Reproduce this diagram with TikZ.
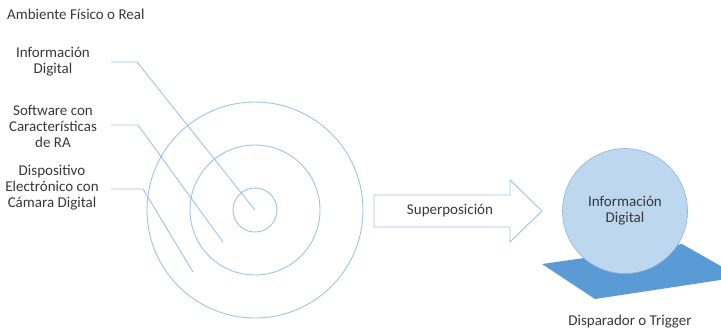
\documentclass[tikz,border=0pt]{standalone}
\usepackage{fontspec}
\setmainfont{Carlito}
\definecolor{linec}{HTML}{9DC3E6}
\definecolor{circfill}{HTML}{BDD7EE}
\definecolor{circdraw}{HTML}{8FB3DA}
\definecolor{trig}{HTML}{5B9BD5}
\definecolor{txt}{HTML}{383838}
\begin{document}
\begin{tikzpicture}[x=1pt,y=-1pt,
  lbl/.style={text=txt,font=\fontsize{15}{16}\selectfont,align=center,inner sep=0pt},
  leader/.style={draw=linec,line width=0.9pt},
  ring/.style={draw=linec,line width=0.9pt}]
\useasboundingbox (0,0) rectangle (721,333);
% title
\node[lbl,anchor=west] (amb) at (7,14) {Ambiente Físico o Real};
% rings
\coordinate (c) at (255,210);
\draw[ring] (c) circle[radius=108];
\draw[ring] (c) circle[radius=65];
\draw[ring] (c) circle[radius=22];
% labels
\node[lbl] (l1) at (53,62) {Información\\Digital};
\node[lbl] (l2) at (53,126) {Software con\\Características\\de RA};
\node[lbl] (l3) at (52,188) {Dispositivo\\Electrónico con\\Cámara Digital};
\coordinate (e1) at (255,210);
\coordinate (e2) at (223,242);
\coordinate (e3) at (193,272);
\coordinate (s1) at (111,62);
\coordinate (s2) at (111,125);
\coordinate (s3) at (111,189);
\draw[leader] (s1) -- (137,62) -- (e1);
\draw[leader] (s2) -- (138,125) -- (e2);
\draw[leader] (s3) -- (143,189) -- (e3);
% block arrow
\draw[draw=linec,fill=white,line width=0.9pt] (374,195) -- (510,195) -- (510,180) -- (542,211) -- (510,242) -- (510,227) -- (374,227) -- cycle;
\node[lbl] (sup) at (450,211) {Superposición};
% trigger plane
\begin{scope}
\clip (0,0) rectangle (721,333);
\fill[trig] (542,264) -- (682,244) -- (740,277) -- (595,299) -- cycle;
\end{scope}
% info circle
\node[circle,fill=circfill,draw=circdraw,line width=0.6pt,minimum size=125pt,inner sep=0pt] (info) at (625,211) {};
\node[lbl] (infot) at (625,211) {Información\\Digital};
\node[lbl] (disp) at (630,322) {Disparador o Trigger};
\end{tikzpicture}
\end{document}
